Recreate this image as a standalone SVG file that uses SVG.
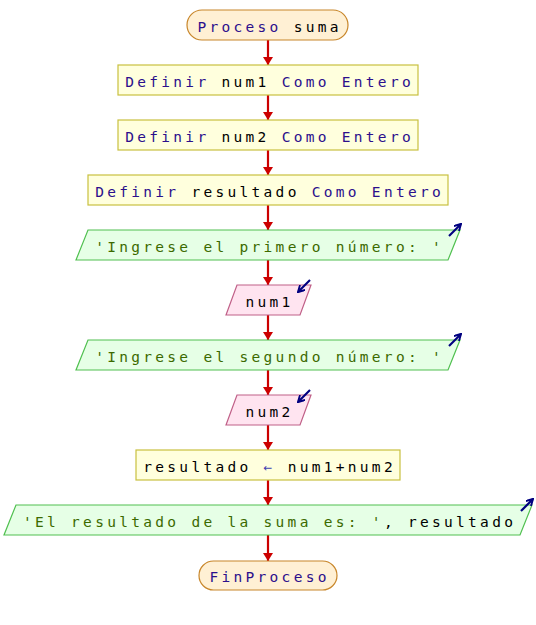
<svg xmlns="http://www.w3.org/2000/svg" width="536" height="625" viewBox="0 0 536 625">
<style>
text{font-family:"DejaVu Sans Mono","Liberation Mono",monospace;font-size:14.5px;letter-spacing:3.3px;text-anchor:middle;fill:#000}
.kw{fill:#2c0f8c}
.st{fill:#3c6a00}
.op{fill:#4040b0}
.term{fill:#fff0d4;stroke:#c8862a;stroke-width:1.2}
.proc{fill:#ffffdd;stroke:#c8c040;stroke-width:1.2}
.out{fill:#e6ffe6;stroke:#50c050;stroke-width:1.2}
.inp{fill:#ffe4f0;stroke:#c06088;stroke-width:1.2}
.ic{stroke:#000080;stroke-width:2.2;fill:none}
.conn line{stroke:#cc0000;stroke-width:2.2}
</style>
<defs>
<marker id="ah" viewBox="0 0 8 10" refX="8" refY="5" markerWidth="8" markerHeight="10" orient="auto" markerUnits="userSpaceOnUse">
<path d="M0,0 L8,5 L0,10 Z" fill="#cc0000"/>
</marker>
<marker id="ih" viewBox="0 0 10 10" refX="9" refY="5" markerWidth="8" markerHeight="8" orient="auto" markerUnits="userSpaceOnUse">
<path d="M1,0.5 L9,5 L1,9.5" fill="none" stroke="#000080" stroke-width="2.4"/>
</marker>
</defs>
<rect width="536" height="625" fill="#fff"/>
<g class="conn" id="connectors">
<line x1="268" y1="40" x2="268" y2="65" marker-end="url(#ah)"/>
<line x1="268" y1="95" x2="268" y2="120" marker-end="url(#ah)"/>
<line x1="268" y1="150" x2="268" y2="175" marker-end="url(#ah)"/>
<line x1="268" y1="205" x2="268" y2="230" marker-end="url(#ah)"/>
<line x1="268" y1="260" x2="268" y2="285" marker-end="url(#ah)"/>
<line x1="268" y1="315" x2="268" y2="340" marker-end="url(#ah)"/>
<line x1="268" y1="370" x2="268" y2="395" marker-end="url(#ah)"/>
<line x1="268" y1="425" x2="268" y2="450" marker-end="url(#ah)"/>
<line x1="268" y1="480" x2="268" y2="505" marker-end="url(#ah)"/>
<line x1="268" y1="535" x2="268" y2="561" marker-end="url(#ah)"/>
</g>
<g id="n1">
<rect class="term" x="187" y="10" width="161" height="30" rx="15"/>
<text x="269.6" y="31.5"><tspan class="kw">Proceso</tspan> suma</text>
</g>
<g id="n2">
<rect class="proc" x="118" y="65" width="300" height="30"/>
<text x="269.6" y="86.5"><tspan class="kw">Definir</tspan> num1 <tspan class="kw">Como Entero</tspan></text>
</g>
<g id="n3">
<rect class="proc" x="118" y="120" width="300" height="30"/>
<text x="269.6" y="141.5"><tspan class="kw">Definir</tspan> num2 <tspan class="kw">Como Entero</tspan></text>
</g>
<g id="n4">
<rect class="proc" x="88" y="175" width="360" height="30"/>
<text x="269.6" y="196.5"><tspan class="kw">Definir</tspan> resultado <tspan class="kw">Como Entero</tspan></text>
</g>
<g id="n5">
<polygon class="out" points="88,230 460,230 448,260 76,260"/>
<text x="269.6" y="251.5" class="st">'Ingrese el primero número: '</text>
<line class="ic" x1="449" y1="236" x2="461" y2="224" marker-end="url(#ih)"/>
</g>
<g id="n6">
<polygon class="inp" points="237,285 311,285 300,315 226,315"/>
<text x="269.6" y="306.5">num1</text>
<line class="ic" x1="310" y1="280" x2="298" y2="292" marker-end="url(#ih)"/>
</g>
<g id="n7">
<polygon class="out" points="88,340 460,340 448,370 76,370"/>
<text x="269.6" y="361.5" class="st">'Ingrese el segundo número: '</text>
<line class="ic" x1="449" y1="346" x2="461" y2="334" marker-end="url(#ih)"/>
</g>
<g id="n8">
<polygon class="inp" points="237,395 311,395 300,425 226,425"/>
<text x="269.6" y="416.5">num2</text>
<line class="ic" x1="310" y1="390" x2="298" y2="402" marker-end="url(#ih)"/>
</g>
<g id="n9">
<rect class="proc" x="136" y="450" width="264" height="30"/>
<text x="269.6" y="471.5">resultado <tspan class="op">←</tspan> num1+num2</text>
</g>
<g id="n10">
<polygon class="out" points="16,505 532,505 520,535 4,535"/>
<text x="269.6" y="526.5"><tspan class="st">'El resultado de la suma es: '</tspan>, resultado</text>
<line class="ic" x1="521" y1="511" x2="533" y2="499" marker-end="url(#ih)"/>
</g>
<g id="n11">
<rect class="term" x="199" y="561" width="138" height="29" rx="14.5"/>
<text x="269.6" y="581.5" class="kw">FinProceso</text>
</g>
</svg>
